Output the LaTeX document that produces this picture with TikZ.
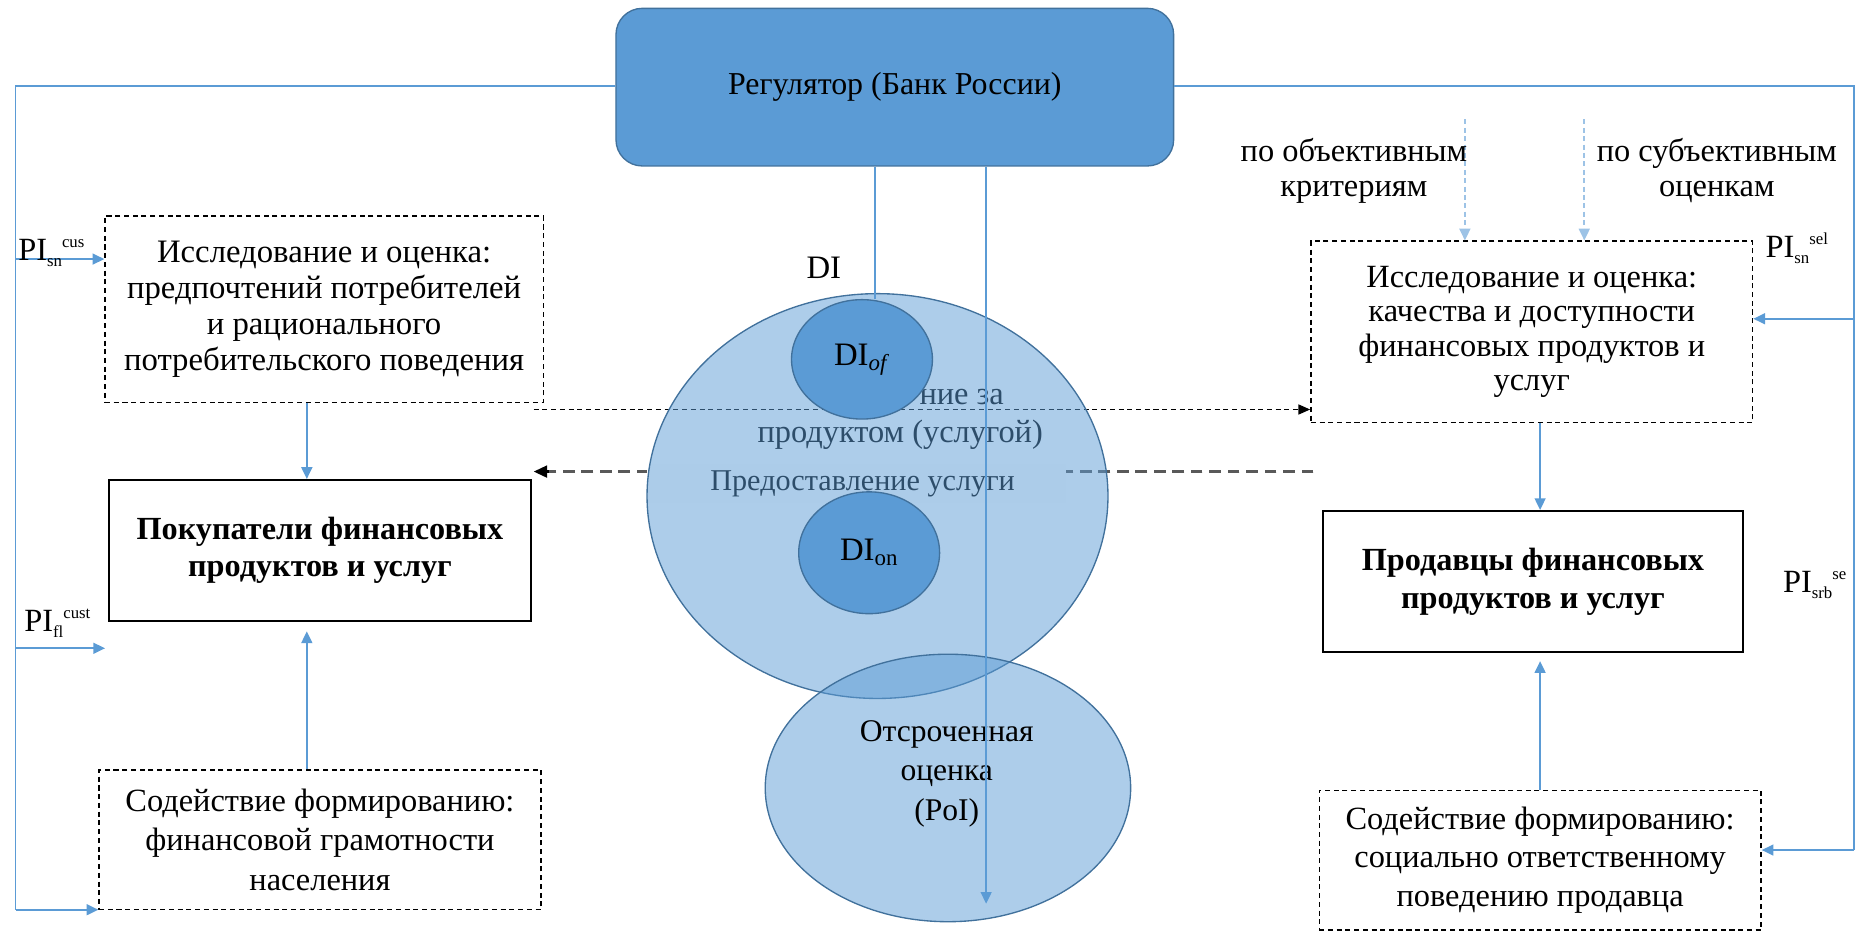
\documentclass[tikz,border=0pt]{standalone}
\usepackage{fontspec}
\setmainfont{Liberation Serif}
\usetikzlibrary{arrows.meta,shapes.geometric}
\definecolor{regblue}{HTML}{5B9BD5}
\definecolor{edgeblue}{HTML}{41719C}
\definecolor{lineblue}{HTML}{5B9BD5}
\definecolor{lightdash}{HTML}{9DC3E6}
\definecolor{greyline}{HTML}{595959}
\newcommand{\pilabel}[2]{PI\raisebox{-0.4ex}{\fontsize{10}{10}\selectfont #1}\raisebox{0.9ex}{\fontsize{10}{10}\selectfont #2}}
\tikzset{
  txt/.style={font=\fontsize{19.3}{21.5}\selectfont, align=center, inner sep=0pt},
  dbox/.style={draw=black, line width=0.8pt, dash pattern=on 3pt off 2.2pt, inner sep=0pt, align=center},
  sbox/.style={draw=black, line width=1.1pt, inner sep=0pt, align=center, font=\bfseries\fontsize{19.2}{22.5}\selectfont},
  bluearrow/.style={draw=lineblue, line width=1pt, -{Triangle[length=7pt,width=6.5pt]}},
  blueline/.style={draw=lineblue, line width=1pt},
  lightarrow/.style={draw=lightdash, line width=1pt, dash pattern=on 3pt off 2pt, -{Triangle[length=7pt,width=6.5pt]}},
  bigell/.style={ellipse, draw=edgeblue, line width=0.8pt, fill=regblue, fill opacity=0.5, text opacity=1, inner sep=0pt},
  smallell/.style={ellipse, draw=edgeblue, line width=0.8pt, fill=regblue, inner sep=0pt, font=\fontsize{19.5}{20}\selectfont},
}
\begin{document}
\begin{tikzpicture}[x=0.025cm,y=-0.025cm]
\useasboundingbox (0,0) rectangle (1568,781);
% --- lower dashed (grey) arrow, behind the middle
\coordinate (gstart) at (1100,395);
\coordinate (gend) at (447,395);
\draw[greyline, line width=1.6pt, dash pattern=on 7pt off 4pt, -{Triangle[length=8pt,width=7pt]}, black] (gstart) -- (gend);
\draw[greyline, line width=1.6pt, dash pattern=on 7pt off 4pt] (gstart) -- (460,395);
% texts behind the circle
\node[txt, fill=white, minimum width=8.775cm, minimum height=0.8cm, font=\fontsize{18}{20}\selectfont] (prov) at (717.5,405) {\hspace*{0.25cm}Предоставление услуги};
\node[txt] (obs1) at (754,332) {\phantom{Наблюде}ние за};
\node[txt] (obs2) at (754,364) {продуктом (услугой)};
% boxes
\node[dbox, minimum width=9.175cm, minimum height=3.9cm, font=\fontsize{19.5}{21.3}\selectfont] (tl) at (271.5,259) {Исследование и оценка:\\предпочтений потребителей\\и рационального\\потребительского поведения};
\node[dbox, minimum width=9.25cm, minimum height=3.8cm, font=\fontsize{19.3}{20.3}\selectfont] (tr) at (1283,278) {Исследование и оценка:\\качества и доступности\\финансовых продуктов и\\услуг};
% top dashed black arrow
\coordinate (bstart) at (447,343);
\draw[black, line width=0.8pt, dash pattern=on 3pt off 2.2pt, -{Triangle[length=7pt,width=6pt]}] (bstart) -- (tr.west |- bstart);
% ellipses
\node[bigell, minimum width=9.65cm, minimum height=8.475cm] (big) at (735,415.5) {};
\node[bigell, minimum width=7.65cm, minimum height=5.6cm] (poi) at (794,660) {};
\node[txt, font=\fontsize{18.8}{23.4}\selectfont] (poitxt) at (793,648) {Отсроченная\\оценка\\(PoI)};
\node[smallell, minimum width=2.95cm, minimum height=2.5cm] (diof) at (722,301) {DI\textsubscript{\textit{of}}};
\node[smallell, minimum width=2.95cm, minimum height=2.55cm] (dion) at (728,463) {DI\textsubscript{on}};
\node[txt, font=\fontsize{19.5}{20}\selectfont] (di) at (690,224) {DI};
% regulator
\node[draw=edgeblue, line width=0.8pt, fill=regblue, rounded corners=0.55cm, minimum width=11.675cm, minimum height=3.3cm, txt, font=\fontsize{19}{21}\selectfont] (reg) at (749.5,73) {Регулятор (Банк России)};
% solid boxes
\node[sbox, minimum width=8.85cm, minimum height=2.95cm] (buy) at (268,461) {Покупатели финансовых\\продуктов и услуг};
\node[sbox, minimum width=8.8cm, minimum height=2.95cm] (sell) at (1284,487) {Продавцы финансовых\\продуктов и услуг};
\node[dbox, minimum width=9.25cm, minimum height=2.925cm, font=\fontsize{19.3}{23.8}\selectfont] (bl) at (268,703.5) {Содействие формированию:\\финансовой грамотности\\населения};
\node[dbox, minimum width=9.25cm, minimum height=2.925cm, font=\fontsize{19.3}{22.7}\selectfont] (br) at (1290,720.5) {Содействие формированию:\\социально ответственному\\поведению продавца};
% regulator verticals
\coordinate (v1) at (733,0);
\coordinate (v2) at (826,0);
\coordinate (v2end) at (826,757);
\draw[blueline] (reg.south -| v1) -- (diof.north -| v1);
\draw[bluearrow] (reg.south -| v2) -- (v2end);
% left frame
\coordinate (lt) at (13,72);
\coordinate (lb) at (13,762);
\coordinate (lsn) at (13,217);
\coordinate (lfl) at (13,543);
\coordinate (lflend) at (88,543);
\draw[blueline] (reg.west |- lt) -- (lt) -- (lb);
\draw[bluearrow] (lb) -- (bl.west |- lb);
\draw[bluearrow] (lsn) -- (tl.west |- lsn);
\draw[bluearrow] (lfl) -- (lflend);
% right frame
\coordinate (rt) at (1553,72);
\coordinate (rb) at (1553,712);
\coordinate (rsn) at (1553,267);
\draw[blueline] (reg.east |- rt) -- (rt) -- (rb);
\draw[bluearrow] (rb) -- (br.east |- rb);
\draw[bluearrow] (rsn) -- (tr.east |- rsn);
% vertical connectors between boxes
\coordinate (cl) at (257,0);
\coordinate (cr) at (1290,0);
\draw[bluearrow] (tl.south -| cl) -- (buy.north -| cl);
\draw[bluearrow, shorten >=8*0.025cm] (bl.north -| cl) -- (buy.south -| cl);
\draw[bluearrow] (tr.south -| cr) -- (sell.north -| cr);
\draw[bluearrow, shorten >=7*0.025cm] (br.north -| cr) -- (sell.south -| cr);
% dashed light arrows from above
\coordinate (o1) at (1227,100);
\coordinate (o2) at (1327,100);
\draw[lightarrow] (o1) -- (tr.north -| o1);
\draw[lightarrow] (o2) -- (tr.north -| o2);
\node[txt, font=\fontsize{19.3}{20.6}\selectfont] (objl) at (1134,143) {по объективным\\критериям};
\node[txt, font=\fontsize{19.3}{20.6}\selectfont] (subl) at (1438,143) {по субъективным\\оценкам};
% PI labels
\node[txt] (pisn) at (43,212) {\pilabel{sn}{cus}};
\node[txt] (pifl) at (48,522) {\pilabel{fl}{cust}};
\node[txt] (pisel) at (1505,208) {\pilabel{sn}{sel}};
\node[txt] (pisrb) at (1520,490) {\pilabel{srb}{se}};
\end{tikzpicture}
\end{document}
